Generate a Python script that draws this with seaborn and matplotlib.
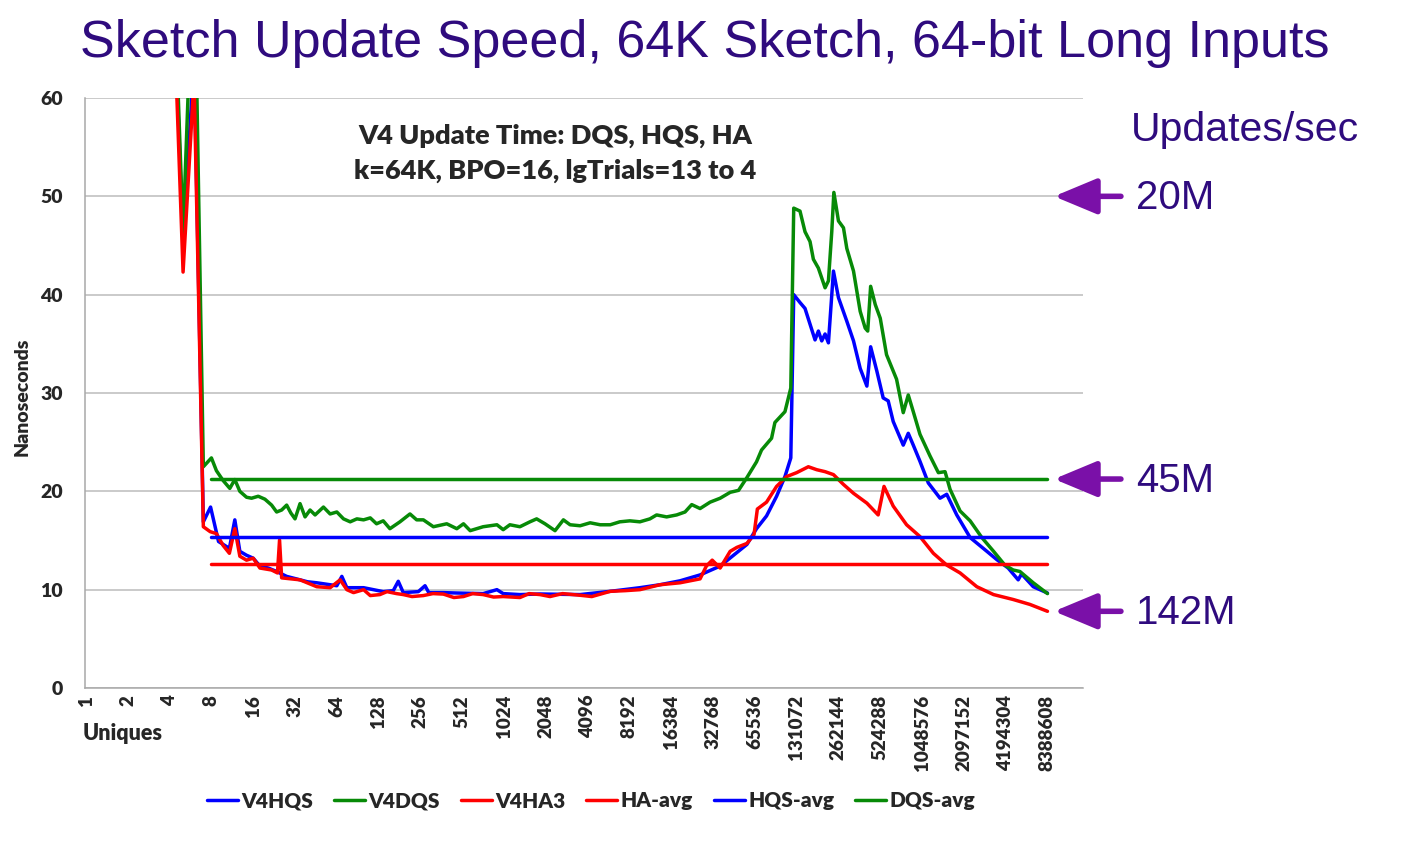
import pandas as pd
import seaborn as sns
import matplotlib.pyplot as plt

# x positions are log2(uniques): the original chart spaces every octave evenly
tick_labels = ['1', '2', '4', '8', '16', '32', '64', '128', '256', '512', '1024', '2048',
               '4096', '8192', '16384', '32768', '65536', '131072', '262144', '524288',
               '1048576', '2097152', '4194304', '8388608']

hqs_lg = [0, 1, 1.585, 2, 2.322, 2.585, 2.807, 2.98, 3.17, 3.43, 3.56, 3.68, 3.84, 4.0, 4.16,
          4.36, 4.56, 4.8, 5.12, 5.3, 5.52, 5.84, 6.0, 6.12, 6.24, 6.64, 7.11, 7.35, 7.47, 7.59,
          7.95, 8.11, 8.2, 8.55, 8.87, 9.5, 9.83, 9.98, 10.38, 10.86, 11.82, 12.54, 13.25, 13.73,
          14.21, 14.69, 15.17, 15.49, 15.81, 16.04, 16.28, 16.52, 16.72, 16.86, 16.93, 17.08,
          17.2, 17.32, 17.44, 17.52, 17.6, 17.68, 17.76, 17.88, 18.0, 18.2, 18.36, 18.52, 18.68,
          18.77, 18.92, 19.07, 19.19, 19.31, 19.55, 19.67, 19.79, 19.95, 20.15, 20.43, 20.59,
          20.83, 21.15, 21.55, 21.79, 22.06, 22.3, 22.38, 22.66, 23.0]
hqs_ns = [400, 200, 120, 82, 45.2, 64, 16.9, 18.4, 14.9, 14.2, 17.1, 13.9, 13.5, 13.2, 12.4,
          12.2, 11.85, 11.35, 11.0, 10.8, 10.7, 10.5, 10.4, 11.35, 10.2, 10.2, 9.8, 9.9, 10.85, 9.7,
          9.8, 10.4, 9.7, 9.7, 9.66, 9.6, 10.0, 9.6, 9.5, 9.56, 9.5, 9.83, 10.2, 10.5,
          10.9, 11.5, 12.4, 13.5, 14.6, 16.2, 17.5, 19.5, 21.5, 23.4, 40.0, 39.2,
          38.6, 37.0, 35.4, 36.3, 35.3, 36.0, 35.1, 42.4, 39.7, 37.3, 35.3, 32.5, 30.7,
          34.7, 32.2, 29.5, 29.2, 27.1, 24.7, 25.9, 24.7, 23.05, 20.85, 19.3, 19.7,
          17.6, 15.3, 13.9, 13.05, 12.2, 11.0, 11.6, 10.3, 9.66]

dqs_lg = [0, 1, 1.585, 2, 2.322, 2.585, 2.807, 3.0, 3.12, 3.28, 3.44, 3.56, 3.68, 3.84, 3.96,
          4.12, 4.28, 4.44, 4.56, 4.68, 4.8, 4.9, 5.0, 5.12, 5.24, 5.36, 5.48, 5.68, 5.84, 6.0,
          6.16, 6.32, 6.48, 6.64, 6.8, 6.95, 7.11, 7.27, 7.51, 7.75, 7.91, 8.07, 8.31, 8.63, 8.87,
          9.03, 9.19, 9.5, 9.83, 9.98, 10.14, 10.38, 10.62, 10.78, 10.98, 11.22, 11.42, 11.58,
          11.82, 12.06, 12.3, 12.54, 12.77, 13.01, 13.25, 13.49, 13.65, 13.89, 14.13, 14.33,
          14.49, 14.69, 14.93, 15.17, 15.41, 15.61, 15.81, 16.04, 16.16, 16.4, 16.48, 16.72,
          16.86, 16.93, 17.08, 17.2, 17.32, 17.4, 17.52, 17.68, 17.76, 17.84, 17.89, 18.0, 18.12,
          18.2, 18.36, 18.52, 18.64, 18.7, 18.77, 18.88, 19.0, 19.15, 19.39, 19.55, 19.67,
          19.79, 19.95, 20.19, 20.39, 20.55, 20.67, 20.91, 21.15, 21.43, 21.71, 21.98, 22.18,
          22.34, 22.66, 23.0]
dqs_ns = [420, 210, 125, 85, 46.3, 77, 22.5, 23.4, 22.1, 21.1, 20.3, 21.2, 20.0, 19.4, 19.3,
          19.5, 19.2, 18.6, 17.9, 18.1, 18.6, 17.8, 17.2, 18.75, 17.4, 18.1, 17.6, 18.4, 17.7, 17.9,
          17.2, 16.9, 17.2, 17.1, 17.3, 16.7, 17.0, 16.2, 16.9, 17.7, 17.1, 17.1, 16.4, 16.7, 16.2,
          16.7, 16.0, 16.4, 16.6, 16.1, 16.6, 16.4, 16.9, 17.2, 16.7, 16.0, 17.1, 16.6,
          16.5, 16.8, 16.6, 16.6, 16.9, 17.0, 16.9, 17.2, 17.6, 17.4, 17.6, 17.9,
          18.65, 18.25, 18.9, 19.3, 19.9, 20.1, 21.4, 23.0, 24.2, 25.4, 27.0, 28.1,
          30.5, 48.8, 48.5, 46.4, 45.4, 43.6, 42.7, 40.7, 41.4, 46.4, 50.4, 47.5, 46.8,
          44.7, 42.4, 38.3, 36.6, 36.3, 40.85, 39.0, 37.6, 33.9, 31.4, 28.0, 29.8,
          28.1, 25.8, 23.6, 21.9, 22.0, 20.2, 18.0, 17.0, 15.3, 13.9, 12.5, 12.0,
          11.85, 10.7, 9.6]

ha_lg = [0, 1, 1.585, 2, 2.322, 2.585, 2.807, 2.97, 3.12, 3.28, 3.43, 3.56, 3.68, 3.84, 4.0,
         4.16, 4.44, 4.58, 4.63, 4.68, 5.12, 5.52, 5.84, 6.08, 6.24, 6.4, 6.64, 6.8, 7.03, 7.2,
         7.43, 7.59, 7.8, 8.07, 8.3, 8.55, 8.8, 9.03, 9.25, 9.5, 9.75, 9.98, 10.38, 10.6, 10.86,
         11.1, 11.4, 11.82, 12.1, 12.54, 12.9, 13.25, 13.73, 14.21, 14.69, 14.84,
         14.98, 15.17, 15.41, 15.57, 15.81, 15.98, 16.06, 16.28, 16.52, 16.76, 17.0, 17.28,
         17.48, 17.68, 17.88, 18.12, 18.36, 18.68, 18.95, 19.09, 19.31, 19.63, 19.95, 20.27,
         20.59, 20.91, 21.31, 21.71, 22.18, 22.58, 23.0]
ha_ns = [400, 200, 120, 81, 42.3, 62, 16.4, 15.9, 15.7, 14.5, 13.7, 16.2, 13.4, 13.0, 13.2,
         12.2, 12.0, 11.7, 15.05, 11.2, 11.0, 10.3, 10.2, 11.0, 10.0, 9.7, 10.0, 9.4, 9.5, 9.8,
         9.6, 9.5, 9.3, 9.4, 9.6, 9.55, 9.2, 9.3, 9.6, 9.5, 9.25, 9.3, 9.2, 9.6, 9.5,
         9.3, 9.6, 9.43, 9.3, 9.83, 9.9, 10.0, 10.5, 10.7, 11.1, 12.4,
         13.0, 12.2, 13.9, 14.3, 14.7, 15.6, 18.2, 18.9, 20.5, 21.5, 21.9, 22.5,
         22.2, 22.0, 21.7, 20.7, 19.8, 18.8, 17.6, 20.5, 18.5, 16.6, 15.4, 13.7,
         12.5, 11.7, 10.3, 9.5, 9.0, 8.5, 7.8]

# averages, drawn flat from 8 uniques to 8388608 uniques
avg_lg = [3, 23]
ha_avg = 12.6
hqs_avg = 15.35
dqs_avg = 21.25

# right-hand annotation: updates/sec for a given ns level
rate_labels = ['20M', '45M', '142M']
rate_ns = [50, 21.25, 7.8]

BLUE, GREEN, RED = '#0000ff', '#078a07', '#ff0000'
GRID = '#bcbcbc'
INK = '#2f0b7e'
ARROW = '#7a10a8'

sns.set_style('white')
plt.rcParams['font.family'] = ['Lato', 'DejaVu Sans']

fig = plt.figure(figsize=(14.17, 8.48), dpi=100)
W, H = 1417, 848
ax = fig.add_axes([85 / W, 1 - 688 / H, (1083 - 85) / W, (688 - 98) / H])

series = [
    ('V4HQS', hqs_lg, hqs_ns, BLUE),
    ('V4DQS', dqs_lg, dqs_ns, GREEN),
    ('V4HA3', ha_lg, ha_ns, RED),
    ('HA-avg', avg_lg, [ha_avg] * 2, RED),
    ('HQS-avg', avg_lg, [hqs_avg] * 2, BLUE),
    ('DQS-avg', avg_lg, [dqs_avg] * 2, GREEN),
]
for name, xs, ys, col in series:
    df = pd.DataFrame({'lg': xs, 'ns': ys})
    sns.lineplot(data=df, x='lg', y='ns', color=col, linewidth=2.5, label=name,
                 sort=False, estimator=None, ax=ax)

ax.set_xlim(-0.024, 23.85)
ax.set_ylim(0, 60)
ax.set_yticks(range(0, 61, 10))
ax.set_xticks(range(len(tick_labels)))
ax.set_xticklabels(tick_labels, rotation=90, va='top', fontweight='heavy', fontsize=13.5)
for lab in ax.get_yticklabels():
    lab.set_fontweight('heavy')
    lab.set_fontsize(14)
ax.grid(axis='y', color=GRID, linewidth=1.1)
ax.set_axisbelow(True)
for s in ['top', 'right']:
    ax.spines[s].set_visible(False)
for s in ['left', 'bottom']:
    ax.spines[s].set_color('#a8a8a8')
    ax.spines[s].set_linewidth(1.1)
ax.tick_params(axis='x', length=5, color='#a8a8a8', pad=0)
ax.tick_params(axis='y', length=7, color='#a8a8a8', pad=9)
ax.set_xlabel('')
ax.set_ylabel('')

fig.text(22 / W, 1 - 397 / H, 'Nanoseconds', rotation=90, ha='center', va='center',
         fontsize=14, fontweight='heavy')
fig.text(83 / W, 1 - 734 / H, 'Uniques', ha='left', va='center', fontsize=15.5,
         fontweight='heavy')

ytr = ax.get_yaxis_transform()
ax.text(0.471, 56.2, 'V4 Update Time: DQS, HQS, HA', transform=ytr,
        ha='center', va='center', fontsize=19.5, fontweight='heavy')
ax.text(0.471, 52.6, 'k=64K, BPO=16, lgTrials=13 to 4', transform=ytr,
        ha='center', va='center', fontsize=19.5, fontweight='heavy')

fig.text(705 / W, 1 - 43 / H, 'Sketch Update Speed, 64K Sketch, 64-bit Long Inputs',
         ha='center', va='center', fontsize=37.5, color=INK, family='Liberation Sans')

ax.text(1.048, 56.75, 'Updates/sec', transform=ytr, ha='left', va='center', fontsize=29.5,
        color=INK, family='Liberation Sans')
for lab, v in zip(rate_labels, rate_ns):
    ax.annotate('', xy=(0.971, v), xytext=(1.038, v), xycoords=ytr, textcoords=ytr,
                annotation_clip=False,
                arrowprops=dict(arrowstyle='-|>,head_length=1.2,head_width=0.5',
                                color=ARROW, lw=4, mutation_scale=22, shrinkA=0, shrinkB=0))
    ax.text(1.053, v - 0.2, lab, transform=ytr, ha='left', va='center', fontsize=29,
            color=INK, family='Liberation Sans')

handles, labels = ax.get_legend_handles_labels()
ax.get_legend().remove()
fig.legend(handles, labels, loc='center', bbox_to_anchor=(591 / W, 1 - 801 / H), ncol=6,
           frameon=False, handlelength=1.5, handletextpad=0.15, columnspacing=1.0,
           prop={'weight': 'heavy', 'size': 15})

fig.savefig('out.png', dpi=100)
